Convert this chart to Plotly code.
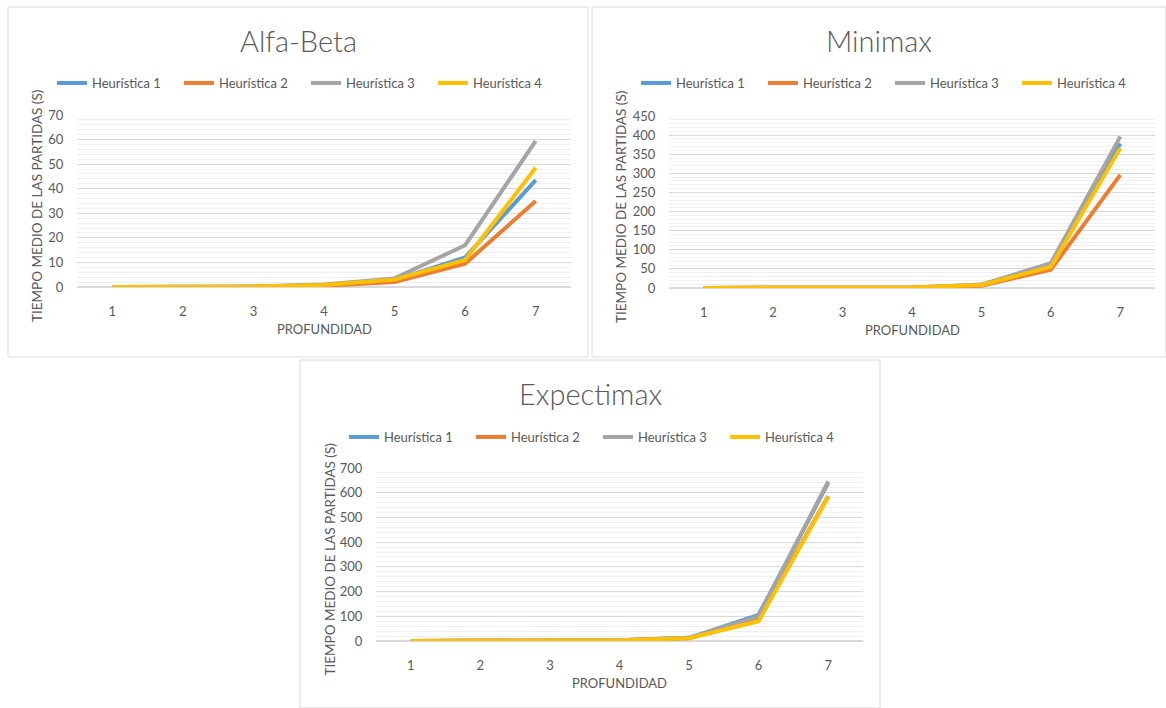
import plotly.graph_objects as go

depth = [1, 2, 3, 4, 5, 6, 7]
series_names = ["Heurística 1", "Heurística 2", "Heurística 3", "Heurística 4"]
colors = ["#5B9BD5", "#ED7D31", "#A5A5A5", "#FFC000"]

# Alfa-Beta
ab_h1 = [0.01, 0.03, 0.15, 0.8, 2.8, 12, 43.5]
ab_h2 = [0.01, 0.03, 0.1, 0.5, 2.0, 9.5, 35]
ab_h3 = [0.01, 0.04, 0.2, 1.0, 3.5, 17, 59.5]
ab_h4 = [0.01, 0.03, 0.15, 0.8, 3.0, 11, 48.5]
# Minimax
mm_h1 = [0.1, 0.2, 0.5, 1.5, 8, 60, 378]
mm_h2 = [0.1, 0.2, 0.4, 1.2, 6, 48, 296]
mm_h3 = [0.1, 0.2, 0.5, 1.6, 9, 65, 396]
mm_h4 = [0.1, 0.2, 0.5, 1.4, 8, 55, 366]
# Expectimax
ex_h1 = [0.2, 0.4, 1, 3, 13, 106, 640]
ex_h2 = [0.2, 0.4, 1, 3, 11, 88, 586]
ex_h3 = [0.2, 0.4, 1, 3, 13, 100, 646]
ex_h4 = [0.2, 0.4, 1, 3, 11, 80, 584]

panels = [
    dict(title="Alfa-Beta", data=[ab_h1, ab_h2, ab_h3, ab_h4], ymax=70, dtick=10, minor=2,
         px=(77, 571), py=(115, 287), box=(8, 7, 588, 357), legend_y=83),
    dict(title="Minimax", data=[mm_h1, mm_h2, mm_h3, mm_h4], ymax=450, dtick=50, minor=10,
         px=(669, 1155), py=(116, 288), box=(592, 7, 1166, 357), legend_y=83),
    dict(title="Expectimax", data=[ex_h1, ex_h2, ex_h3, ex_h4], ymax=700, dtick=100, minor=20,
         px=(376, 863), py=(468, 641), box=(300, 360, 880, 708), legend_y=437),
]

W, H = 1166, 708
FONT = "Lato"
GREY = "#595959"

fig = go.Figure()
shapes = []
annotations = []
layout = {}

for i, p in enumerate(panels):
    n = "" if i == 0 else str(i + 1)
    xa, ya = "x" + n, "y" + n
    leg = "legend" + n
    for j, (name, col) in enumerate(zip(series_names, colors)):
        fig.add_trace(go.Scatter(
            x=depth, y=p["data"][j], mode="lines", name=name,
            line=dict(color=col, width=4), xaxis=xa, yaxis=ya, legend=leg,
        ))
    x0, x1 = p["px"]
    ytop, ybot = p["py"]
    layout["xaxis" + n] = dict(
        domain=[x0 / W, x1 / W], anchor=ya, range=[0.5, 7.5], automargin=False,
        tickmode="array", tickvals=depth, ticktext=[str(d) for d in depth],
        showgrid=False, zeroline=False, showline=False,
        ticks="outside", ticklen=12, tickcolor="rgba(0,0,0,0)",
        tickfont=dict(family=FONT, size=13, color=GREY), fixedrange=True,
    )
    layout["yaxis" + n] = dict(
        domain=[1 - ybot / H, 1 - ytop / H], anchor=xa, range=[0, p["ymax"]], automargin=False,
        dtick=p["dtick"], showgrid=True, gridcolor="#D9D9D9", gridwidth=1,
        minor=dict(dtick=p["minor"], showgrid=True, gridcolor="#F0F0F0", gridwidth=1),
        zeroline=True, zerolinecolor="#D9D9D9", showline=False,
        ticks="outside", ticklen=10, tickcolor="rgba(0,0,0,0)",
        tickfont=dict(family=FONT, size=13, color=GREY), fixedrange=True,
    )
    bx0, by0, bx1, by1 = p["box"]
    layout[leg] = dict(
        orientation="h", x=(bx0 + 44) / W, y=1 - p["legend_y"] / H,
        xanchor="left", yanchor="middle", bgcolor="rgba(0,0,0,0)",
        font=dict(family=FONT, size=13, color=GREY),
        entrywidth=82, entrywidthmode="pixels", itemwidth=30,
        tracegroupgap=0,
    )
    shapes.append(dict(type="rect", xref="paper", yref="paper",
                       x0=bx0 / W, x1=bx1 / W, y0=1 - by1 / H, y1=1 - by0 / H,
                       line=dict(color="#D9D9D9", width=1), fillcolor="rgba(0,0,0,0)", layer="below"))
    cx = (bx0 + bx1) / 2
    annotations.append(dict(text=p["title"], xref="paper", yref="paper",
                            x=cx / W, y=1 - (by0 + 33) / H, xanchor="center", yanchor="middle",
                            showarrow=False, font=dict(family=FONT, size=29, color=GREY, weight=300)))
    annotations.append(dict(text="TIEMPO MEDIO DE LAS PARTIDAS (S)", xref="paper", yref="paper",
                            x=(bx0 + 29) / W, y=1 - ((ytop + ybot) / 2 + 5) / H,
                            xanchor="center", yanchor="middle", textangle=-90, showarrow=False,
                            font=dict(family=FONT, size=13.5, color=GREY)))
    annotations.append(dict(text="PROFUNDIDAD", xref="paper", yref="paper",
                            x=((x0 + x1) / 2) / W, y=1 - (ybot + 42) / H,
                            xanchor="center", yanchor="middle", showarrow=False,
                            font=dict(family=FONT, size=13, color=GREY)))

fig.update_layout(
    width=W, height=H, margin=dict(l=0, r=0, t=0, b=0, autoexpand=False),
    paper_bgcolor="white", plot_bgcolor="white",
    shapes=shapes, annotations=annotations, showlegend=True,
    **layout,
)

fig.write_html("out.html", config={"displayModeBar": False},
               post_script="document.body.style.margin='0';")
